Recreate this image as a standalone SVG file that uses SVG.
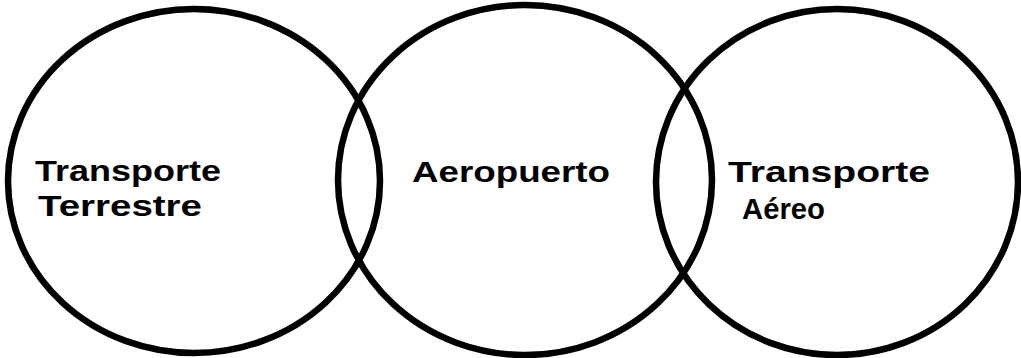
<svg xmlns="http://www.w3.org/2000/svg" width="1021" height="358" viewBox="0 0 1021 358">
<style>
.c{fill:none;stroke:#000;stroke-width:6.5}
.t{font-family:"Liberation Sans",Arial,sans-serif;font-weight:bold;font-size:30px;fill:#000}
</style>
<rect width="1021" height="358" fill="#fff"/>
<g id="terrestre">
<ellipse class="c" cx="194" cy="181" rx="186" ry="172"/>
<text class="t" x="35" y="181" textLength="186" lengthAdjust="spacingAndGlyphs">Transporte</text>
<text class="t" x="38" y="216" textLength="164" lengthAdjust="spacingAndGlyphs">Terrestre</text>
</g>
<g id="aeropuerto">
<ellipse class="c" cx="525" cy="180" rx="187" ry="175"/>
<text class="t" x="412" y="182" textLength="198" lengthAdjust="spacingAndGlyphs">Aeropuerto</text>
</g>
<g id="aereo">
<ellipse class="c" cx="837" cy="182" rx="181" ry="173"/>
<text class="t" x="728" y="182" textLength="202" lengthAdjust="spacingAndGlyphs">Transporte</text>
<text class="t" x="742" y="219" textLength="83" lengthAdjust="spacingAndGlyphs">Aéreo</text>
</g>
</svg>
